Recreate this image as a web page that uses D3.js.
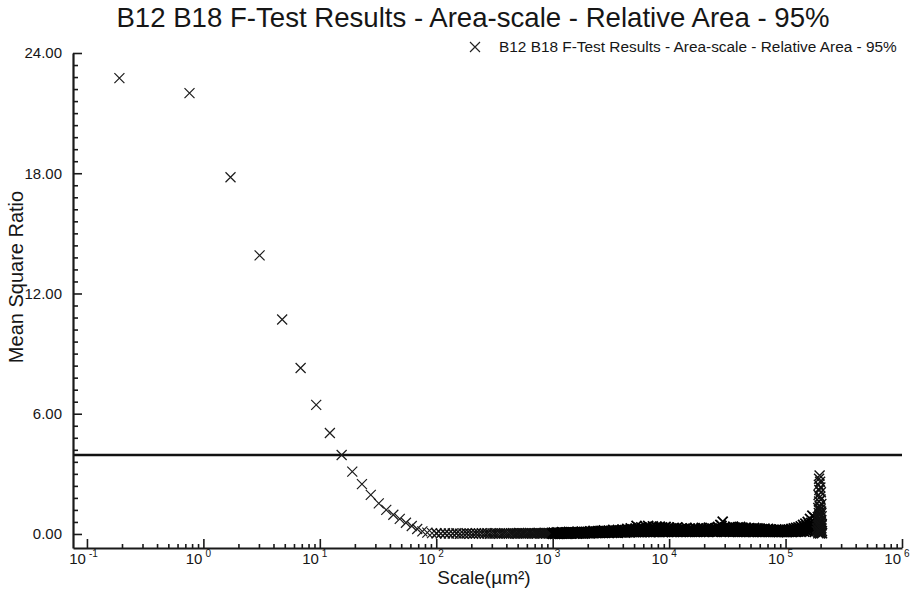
<!DOCTYPE html>
<html><head><meta charset="utf-8">
<script src="https://cdn.jsdelivr.net/npm/d3@7"></script>
<style>
body{margin:0;background:#fff}
svg{display:block}
text{font-family:"Liberation Sans",Arial,sans-serif;fill:#161616}
</style>
</head><body>
<svg id="chart" width="915" height="590"></svg>
<script>
// ---------- data ----------
const chartTitle = "B12 B18 F-Test Results - Area-scale - Relative Area - 95%";
const seriesName = "B12 B18 F-Test Results - Area-scale - Relative Area - 95%";
const xTitle = "Scale(µm²)";
const yTitle = "Mean Square Ratio";
const yMajorTicks = [0, 6, 12, 18, 24];
const xDecades = [-1, 0, 1, 2, 3, 4, 5, 6];
const fCritical = 3.94;

// individually visible points
const distinctScale = [0.19,0.76,1.71,3.04,4.75,6.84,9.31,12.2,15.4,19.0,23.0,27.4,32.1,37.2,42.8,48.6,54.9,61.6,68.6,76.0,83.8,92.0];
const distinctRatio = [22.75,22.0,17.8,13.9,10.7,8.28,6.44,5.04,3.94,3.11,2.49,1.95,1.53,1.20,0.96,0.75,0.56,0.40,0.25,0.13,0.07,0.04];

// 10^2 .. 10^3, near zero
const lowScale = [100.5,109.4,118.8,128.4,138.5,149.0,159.8,171.0,182.6,194.6,206.9,219.6,232.8,246.2,260.1,274.4,289.0,304.0,319.4,335.2,351.3,367.8,384.8,402.0,419.7,437.8,456.2,475.0,494.2,513.8,533.7,554.0,574.8,595.8,617.3,639.2,661.4,684.0,707.0,730.4,754.1,778.2,802.8,827.6,852.9,878.6,904.6,931.0,957.8,985.0];
const lowRatio = [0.03,0.02,0.03,0.02,0.02,0.03,0.01,0.02,0.03,0.02,0.01,0.03,0.02,0.04,0.02,0.03,0.01,0.02,0.03,0.02,0.04,0.02,0.03,0.02,0.01,0.03,0.04,0.02,0.03,0.05,0.02,0.03,0.04,0.02,0.03,0.05,0.03,0.02,0.04,0.03,0.05,0.02,0.04,0.03,0.06,0.03,0.04,0.05,0.03,0.06];

// dense band 10^3 .. ~1.8x10^5 (upper and lower members at each scale)
const bandScale = [
1000,1023,1047,1072,1096,1122,1148,1175,1202,1230,1259,1288,1318,1349,1380,1413,1445,1479,1514,1549,
1585,1622,1660,1698,1738,1778,1820,1862,1905,1950,1995,2042,2089,2138,2188,2239,2291,2344,2399,2455,
2512,2570,2630,2692,2754,2818,2884,2951,3020,3090,3162,3236,3311,3388,3467,3548,3631,3715,3802,3890,
3981,4074,4169,4266,4365,4467,4571,4677,4786,4898,5012,5129,5248,5370,5495,5623,5754,5888,6026,6166,
6310,6457,6607,6761,6918,7079,7244,7413,7586,7762,7943,8128,8318,8511,8710,8913,9120,9333,9550,9772,
10000,10230,10470,10720,10960,11220,11480,11750,12020,12300,12590,12880,13180,13490,13800,14130,14450,14790,15140,15490,
15850,16220,16600,16980,17380,17780,18200,18620,19050,19500,19950,20420,20890,21380,21880,22390,22910,23440,23990,24550,
25120,25700,26300,26920,27540,28180,28840,29510,30200,30900,31620,32360,33110,33880,34670,35480,36310,37150,38020,38900,
39810,40740,41690,42660,43650,44670,45710,46770,47860,48980,50120,51290,52480,53700,54950,56230,57540,58880,60260,61660,
63100,64570,66070,67610,69180,70790,72440,74130,75860,77620,79430,81280,83180,85110,87100,89130,91200,93330,95500,97720,
100000,102300,104700,107200,109600,112200,114800,117500,120200,123000,125900,128800,131800,134900,138000,141300,144500,147900,151400,154900,
158500,162200,166000,169800,173800,177800];
const bandRatioHigh = [
0.03,0.06,0.02,0.05,0.08,0.03,0.06,0.04,0.09,0.05,0.07,0.03,0.08,0.05,0.10,0.04,0.07,0.09,0.05,0.08,
0.06,0.10,0.04,0.09,0.07,0.12,0.05,0.10,0.08,0.06,0.11,0.07,0.13,0.05,0.10,0.15,0.08,0.12,0.06,0.14,
0.09,0.16,0.07,0.12,0.18,0.10,0.14,0.08,0.17,0.11,0.15,0.09,0.20,0.12,0.17,0.10,0.21,0.13,0.18,0.11,
0.22,0.14,0.19,0.12,0.25,0.15,0.20,0.28,0.16,0.23,0.20,0.27,0.40,0.24,0.30,0.18,0.33,0.17,0.27,0.22,
0.35,0.19,0.40,0.25,0.32,0.16,0.38,0.28,0.22,0.36,0.30,0.18,0.37,0.24,0.33,0.15,0.29,0.35,0.20,0.27,
0.32,0.17,0.28,0.22,0.30,0.14,0.26,0.33,0.19,0.24,0.20,0.28,0.15,0.25,0.18,0.30,0.13,0.22,0.27,0.16,
0.24,0.19,0.29,0.14,0.23,0.27,0.17,0.21,0.30,0.15,0.25,0.20,0.28,0.16,0.31,0.22,0.18,0.27,0.24,0.19,
0.29,0.23,0.35,0.26,0.45,0.40,0.62,0.27,0.33,0.21,0.30,0.24,0.34,0.20,0.28,0.36,0.22,0.31,0.26,0.33,
0.25,0.35,0.21,0.32,0.27,0.22,0.30,0.18,0.26,0.29,0.20,0.27,0.23,0.30,0.17,0.25,0.28,0.21,0.26,0.19,
0.24,0.20,0.27,0.16,0.22,0.25,0.18,0.23,0.20,0.15,0.21,0.17,0.23,0.14,0.19,0.22,0.16,0.20,0.13,0.18,
0.16,0.20,0.14,0.22,0.17,0.25,0.19,0.28,0.22,0.30,0.25,0.33,0.28,0.38,0.30,0.45,0.36,0.52,0.40,0.60,
0.48,0.75,0.55,0.92,0.60,0.80];
const bandRatioLow = [
0.01,0.04,0.00,0.03,0.02,0.05,0.01,0.03,0.02,0.06,0.02,0.05,0.01,0.04,0.03,0.06,0.02,0.04,0.07,0.03,
0.05,0.02,0.06,0.03,0.04,0.07,0.02,0.05,0.03,0.08,0.04,0.06,0.03,0.08,0.05,0.04,0.09,0.06,0.10,0.05,
0.07,0.05,0.10,0.06,0.08,0.05,0.09,0.11,0.06,0.08,0.10,0.06,0.09,0.07,0.11,0.08,0.06,0.10,0.09,0.12,
0.08,0.11,0.07,0.10,0.09,0.12,0.08,0.11,0.10,0.13,0.09,0.12,0.10,0.14,0.09,0.12,0.11,0.10,0.13,0.09,
0.12,0.10,0.14,0.11,0.09,0.13,0.10,0.12,0.14,0.10,0.13,0.11,0.10,0.14,0.12,0.09,0.13,0.11,0.12,0.10,
0.12,0.14,0.10,0.13,0.11,0.15,0.12,0.10,0.14,0.12,0.11,0.13,0.10,0.12,0.14,0.11,0.15,0.12,0.10,0.13,
0.12,0.14,0.11,0.13,0.10,0.12,0.15,0.11,0.13,0.12,0.10,0.13,0.12,0.14,0.11,0.13,0.15,0.12,0.10,0.14,
0.12,0.11,0.14,0.13,0.15,0.12,0.14,0.11,0.13,0.12,0.14,0.12,0.10,0.13,0.15,0.11,0.14,0.12,0.13,0.10,
0.13,0.11,0.14,0.12,0.10,0.13,0.11,0.15,0.12,0.10,0.12,0.14,0.11,0.10,0.13,0.12,0.10,0.14,0.11,0.12,
0.10,0.13,0.11,0.12,0.14,0.10,0.12,0.11,0.13,0.10,0.12,0.10,0.11,0.13,0.09,0.12,0.10,0.11,0.12,0.10,
0.11,0.09,0.12,0.10,0.13,0.11,0.10,0.12,0.14,0.11,0.13,0.12,0.15,0.11,0.14,0.18,0.12,0.20,0.15,0.25,
0.18,0.30,0.20,0.35,0.22,0.10];

// pile-up of points at the largest scale
const spikeScale = [196000,194000,198000,193000,199000,195000,201000,192000,197000,200000,194000,203000,196000,191000,199000,202000,193000,197000,204000,195000,
190000,198000,201000,194000,205000,192000,199000,196000,203000,188000,200000,197000,185000,202000,195000,204000,191000,198000,206000,193000,
197500,193500,200500,195500,189000,202500,198500,191500,196500,203500,194500,199500,187000,201500,192500,205500,197000,190500,199000,195000];
const spikeRatio = [2.92,2.75,2.60,2.45,2.32,2.20,2.08,1.95,1.85,1.72,1.62,1.50,1.42,1.30,1.22,1.12,1.05,0.95,0.88,0.80,
0.74,0.68,0.60,0.55,0.50,0.45,0.40,0.35,0.30,0.26,0.22,0.18,0.14,0.10,0.08,0.05,0.03,0.02,0.04,0.12,
1.35,1.18,1.00,0.92,0.85,0.70,0.65,0.58,0.48,0.42,0.38,0.32,0.28,0.24,0.20,0.15,0.12,0.09,0.06,0.16];

// ---------- chart ----------
const svg = d3.select("#chart");
const x = d3.scaleLog().domain([0.0759, 1e6]).range([73, 902]);
const y = d3.scaleLinear().domain([-0.7, 24]).range([548, 53]);
const ink = "#1a1a1a";

// title
svg.append("text").attr("x", 473).attr("y", 27).attr("text-anchor", "middle")
  .attr("font-size", 27.6).text(chartTitle);

// critical line
svg.append("line").attr("x1", x.range()[0]).attr("x2", x.range()[1])
  .attr("y1", y(fCritical)).attr("y2", y(fCritical))
  .attr("stroke", "#111").attr("stroke-width", 2.4);

// y axis
const yMinor = d3.range(0, 41).filter(i => i % 10 !== 0).map(i => i * 0.6);
const gy = svg.append("g").attr("transform", "translate(73,0)");
gy.call(d3.axisLeft(y).tickValues(yMajorTicks).tickSize(-9).tickSizeOuter(0).tickPadding(11).tickFormat(d3.format(".2f")));
gy.append("g").call(d3.axisLeft(y).tickValues(yMinor).tickSize(-5).tickSizeOuter(0).tickFormat(""))
  .select(".domain").remove();
gy.selectAll("text").attr("font-size", 15).attr("font-family", "Liberation Sans, Arial, sans-serif").attr("fill", ink);
gy.selectAll("line").attr("stroke", ink).attr("stroke-width", 1.6);
gy.select(".domain").attr("stroke", ink).attr("stroke-width", 2.2);

// x axis
const xMajor = xDecades.map(d => Math.pow(10, d));
const xMinor = [];
xDecades.slice(0, -1).forEach(d => { for (let m = 2; m <= 9; m++) xMinor.push(m * Math.pow(10, d)); });
const gx = svg.append("g").attr("transform", "translate(0,548)");
gx.call(d3.axisBottom(x).tickValues(xMajor).tickSize(-9).tickSizeOuter(0).tickFormat(""));
gx.append("g").call(d3.axisBottom(x).tickValues(xMinor).tickSize(-4).tickSizeOuter(0).tickFormat(""))
  .select(".domain").remove();
gx.selectAll("line").attr("stroke", ink).attr("stroke-width", 1.6);
gx.select(".domain").attr("stroke", ink).attr("stroke-width", 2.2);

const xl = svg.append("g");
xl.selectAll("text.base").data(xDecades).join("text").attr("class", "base")
  .attr("x", d => x(Math.pow(10, d)) - 1).attr("y", 564).attr("text-anchor", "end")
  .attr("font-size", 15).text("10");
xl.selectAll("text.exp").data(xDecades).join("text").attr("class", "exp")
  .attr("x", d => x(Math.pow(10, d)) + 2).attr("y", 557).attr("text-anchor", "start")
  .attr("font-size", 10).text(d => String(d));

// axis titles
svg.append("text").attr("x", 484).attr("y", 584).attr("text-anchor", "middle")
  .attr("font-size", 19).text(xTitle);
svg.append("text").attr("transform", "translate(23,277) rotate(-90)").attr("text-anchor", "middle")
  .attr("font-size", 20).text(yTitle);

// markers
const cross = "M-5,-5L5,5M-5,5L5,-5";
const groups = [
  { xs: distinctScale, ys: distinctRatio, w: 1.2, c: "#1c1c1c" },
  { xs: lowScale, ys: lowRatio, w: 1.45, c: "#111" },
  { xs: bandScale, ys: bandRatioLow, w: 1.8, c: "#000" },
  { xs: bandScale, ys: bandRatioHigh, w: 1.8, c: "#000" },
  { xs: spikeScale, ys: spikeRatio, w: 1.4, c: "#111" }
];
const pts = [];
groups.forEach(g => g.xs.forEach((v, i) => pts.push({ s: v, r: g.ys[i], w: g.w, c: g.c })));
svg.append("g").selectAll("path").data(pts).join("path")
  .attr("d", cross)
  .attr("transform", d => `translate(${x(d.s)},${y(d.r)})`)
  .attr("fill", "none").attr("stroke", d => d.c).attr("stroke-width", d => d.w);

// legend
svg.append("path").attr("d", cross).attr("transform", "translate(475,47)")
  .attr("fill", "none").attr("stroke", "#222").attr("stroke-width", 1.15);
svg.append("text").attr("x", 499).attr("y", 52).attr("font-size", 15.4).text(seriesName);
</script>
</body></html>
